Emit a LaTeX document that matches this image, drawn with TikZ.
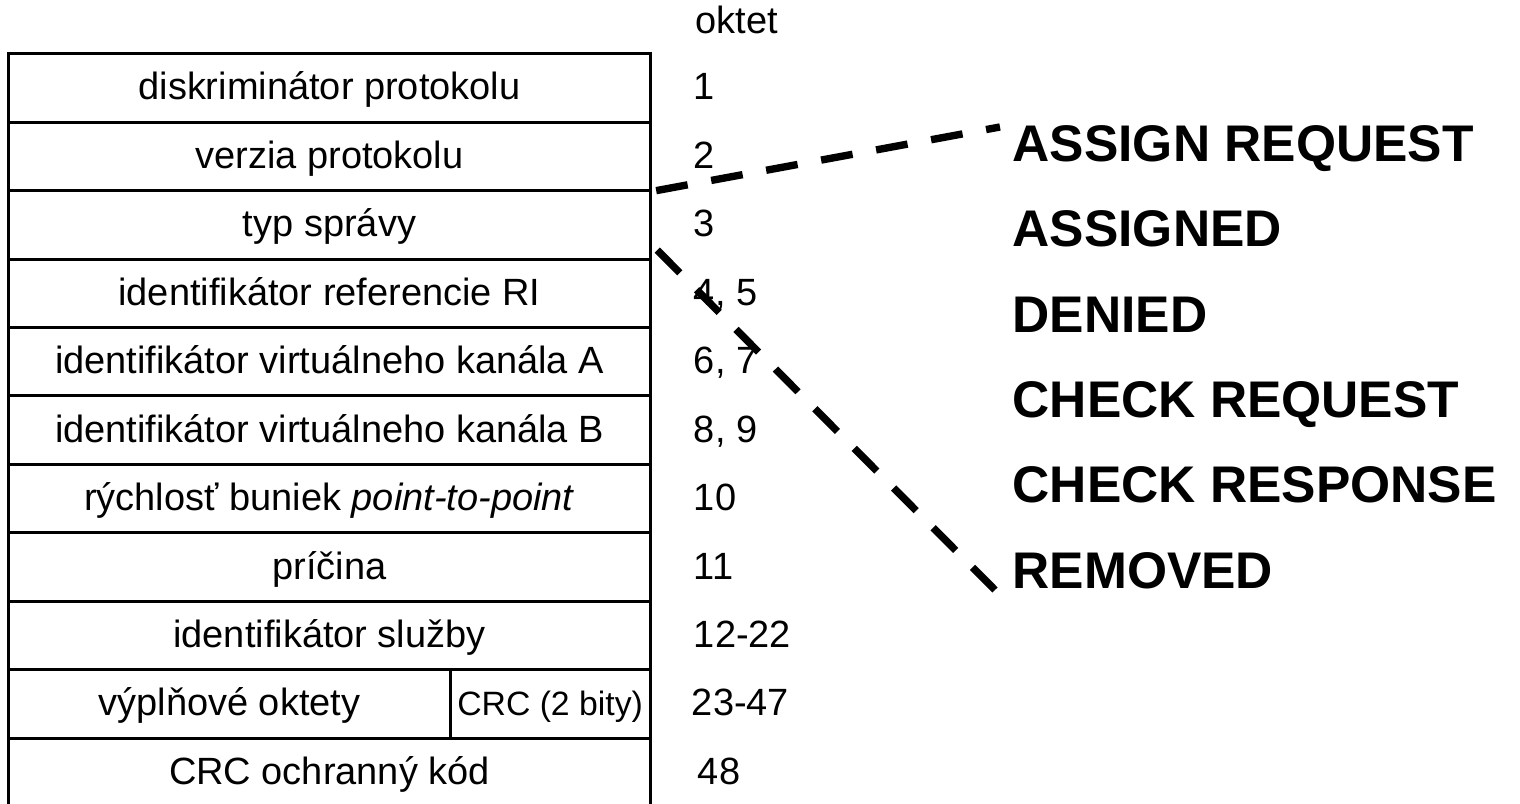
\documentclass[tikz,border=0pt]{standalone}
\usepackage{fontspec}
\setmainfont{Liberation Sans}
\usepackage{tikz}
\usetikzlibrary{positioning}

\tikzset{
    cell/.style = {draw, line width = 0.85pt, inner sep = 0pt, outer sep = 0pt,
        minimum width = 6.41cm, minimum height = 0.684cm,
        text height = 0.3cm, text depth = 0.06cm, font = \fontsize{10.8}{13}\selectfont},
    num/.style = {inner sep = 0pt, anchor = west,
        text height = 0.3cm, text depth = 0.06cm, font = \fontsize{10.8}{13}\selectfont},
    msg/.style = {inner sep = 0pt, anchor = base west, font = \fontsize{14.65}{17}\selectfont\bfseries},
    link/.style = {line width = 2.1pt, dash pattern = on 9.1pt off 6.8pt}
}

\begin{document}
\begin{tikzpicture}[x = 0.01cm, y = -0.01cm]
    \useasboundingbox (0, 0) rectangle (1520, 804);

    \node [cell] (r1) at (329.5, 88) {diskriminátor protokolu};
    \node [cell, below = 0pt of r1] (r2) {verzia protokolu};
    \node [cell, below = 0pt of r2] (r3) {typ správy};
    \node [cell, below = 0pt of r3] (r4) {identifikátor referencie RI};
    \node [cell, below = 0pt of r4] (r5) {identifikátor virtuálneho kanála A};
    \node [cell, below = 0pt of r5] (r6) {identifikátor virtuálneho kanála B};
    \node [cell, below = 0pt of r6] (r7) {rýchlosť buniek \textit{point-to-point}};
    \node [cell, below = 0pt of r7] (r8) {príčina};
    \node [cell, below = 0pt of r8] (r9) {identifikátor služby};
    \node [cell, anchor = north west, minimum width = 4.41cm] (r10) at (r9.south west) {výplňové oktety};
    \node [cell, anchor = north west, minimum width = 2cm, font = \fontsize{9.6}{11}\selectfont] (crc) at (r10.north east) {CRC (2 bity)};
    \node [cell, anchor = north west] (r11) at (r10.south west) {CRC ochranný kód};

    \node [num] (oktet) at (695, 22) {oktet};
    \node [num, right = 0.43cm of r1] (n1) {1};
    \node [num, right = 0.43cm of r2] (n2) {2};
    \node [num, right = 0.43cm of r3] (n3) {3};
    \node [num, right = 0.43cm of r4] (n4) {4, 5};
    \node [num, right = 0.43cm of r5] (n5) {6, 7};
    \node [num, right = 0.43cm of r6] (n6) {8, 9};
    \node [num, right = 0.43cm of r7] (n7) {10};
    \node [num, right = 0.43cm of r8] (n8) {11};
    \node [num, right = 0.43cm of r9] (n9) {12-22};
    \node [num, right = 0.41cm of crc] (n10) {23-47};
    \node [num, right = 0.47cm of r11] (n11) {48};

    \node [msg] (m1) at (1012, 162) {ASSIGN REQUEST};
    \node [msg] (m2) at (1012, 247) {ASSIGNED};
    \node [msg] (m3) at (1012, 333) {DENIED};
    \node [msg] (m4) at (1012, 418) {CHECK REQUEST};
    \node [msg] (m5) at (1012, 503) {CHECK RESPONSE};
    \node [msg] (m6) at (1012, 589) {REMOVED};

    \coordinate (up) at (1000, 127);
    \coordinate (down) at (995, 590);
    \draw [link] ([xshift = 0.06cm] r2.south east) -- (up);
    \draw [link] ([xshift = 0.07cm, yshift = 0.09cm] r3.south east) -- (down);
\end{tikzpicture}
\end{document}
